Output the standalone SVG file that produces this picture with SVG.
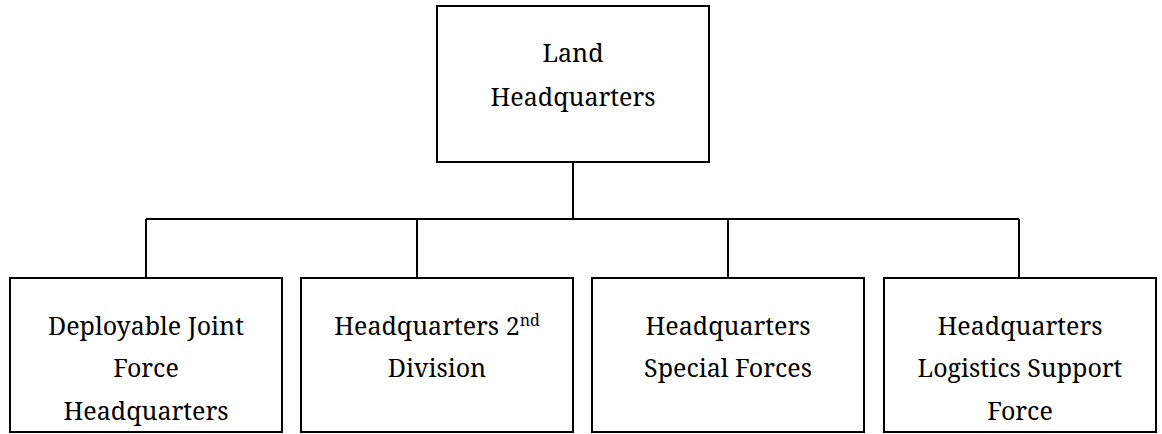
<svg xmlns="http://www.w3.org/2000/svg" width="1162" height="434" viewBox="0 0 1162 434">
<style>
.box{fill:#fff;stroke:#000;stroke-width:2}
.ln{fill:none;stroke:#000;stroke-width:2}
.sup{font-size:16px}
</style>
<rect width="1162" height="434" fill="#fff"/>
<g id="connectors">
<path class="ln" d="M573,162 V219 M146,219 H1019 M146,219 V278 M417,219 V278 M728,219 V278 M1019,219 V278"/>
</g>
<g font-family="Noto Serif, Liberation Serif, serif" font-size="25" text-anchor="middle" fill="#000">
<g id="land-hq">
<rect class="box" x="437" y="6" width="272" height="156"/>
<text x="573" y="62">Land</text>
<text x="573" y="106">Headquarters</text>
</g>
<g id="djfhq">
<rect class="box" x="10" y="278" width="272" height="154"/>
<text x="146" y="335">Deployable Joint</text>
<text x="146" y="377">Force</text>
<text x="146" y="420">Headquarters</text>
</g>
<g id="hq2div">
<rect class="box" x="301" y="278" width="272" height="154"/>
<text x="437" y="335">Headquarters 2<tspan class="sup" dy="-9">nd</tspan></text>
<text x="437" y="377">Division</text>
</g>
<g id="hqsf">
<rect class="box" x="592" y="278" width="272" height="154"/>
<text x="728" y="335">Headquarters</text>
<text x="728" y="377">Special Forces</text>
</g>
<g id="hqlsf">
<rect class="box" x="884" y="278" width="272" height="154"/>
<text x="1020" y="335">Headquarters</text>
<text x="1020" y="377">Logistics Support</text>
<text x="1020" y="420">Force</text>
</g>
</g>
</svg>
